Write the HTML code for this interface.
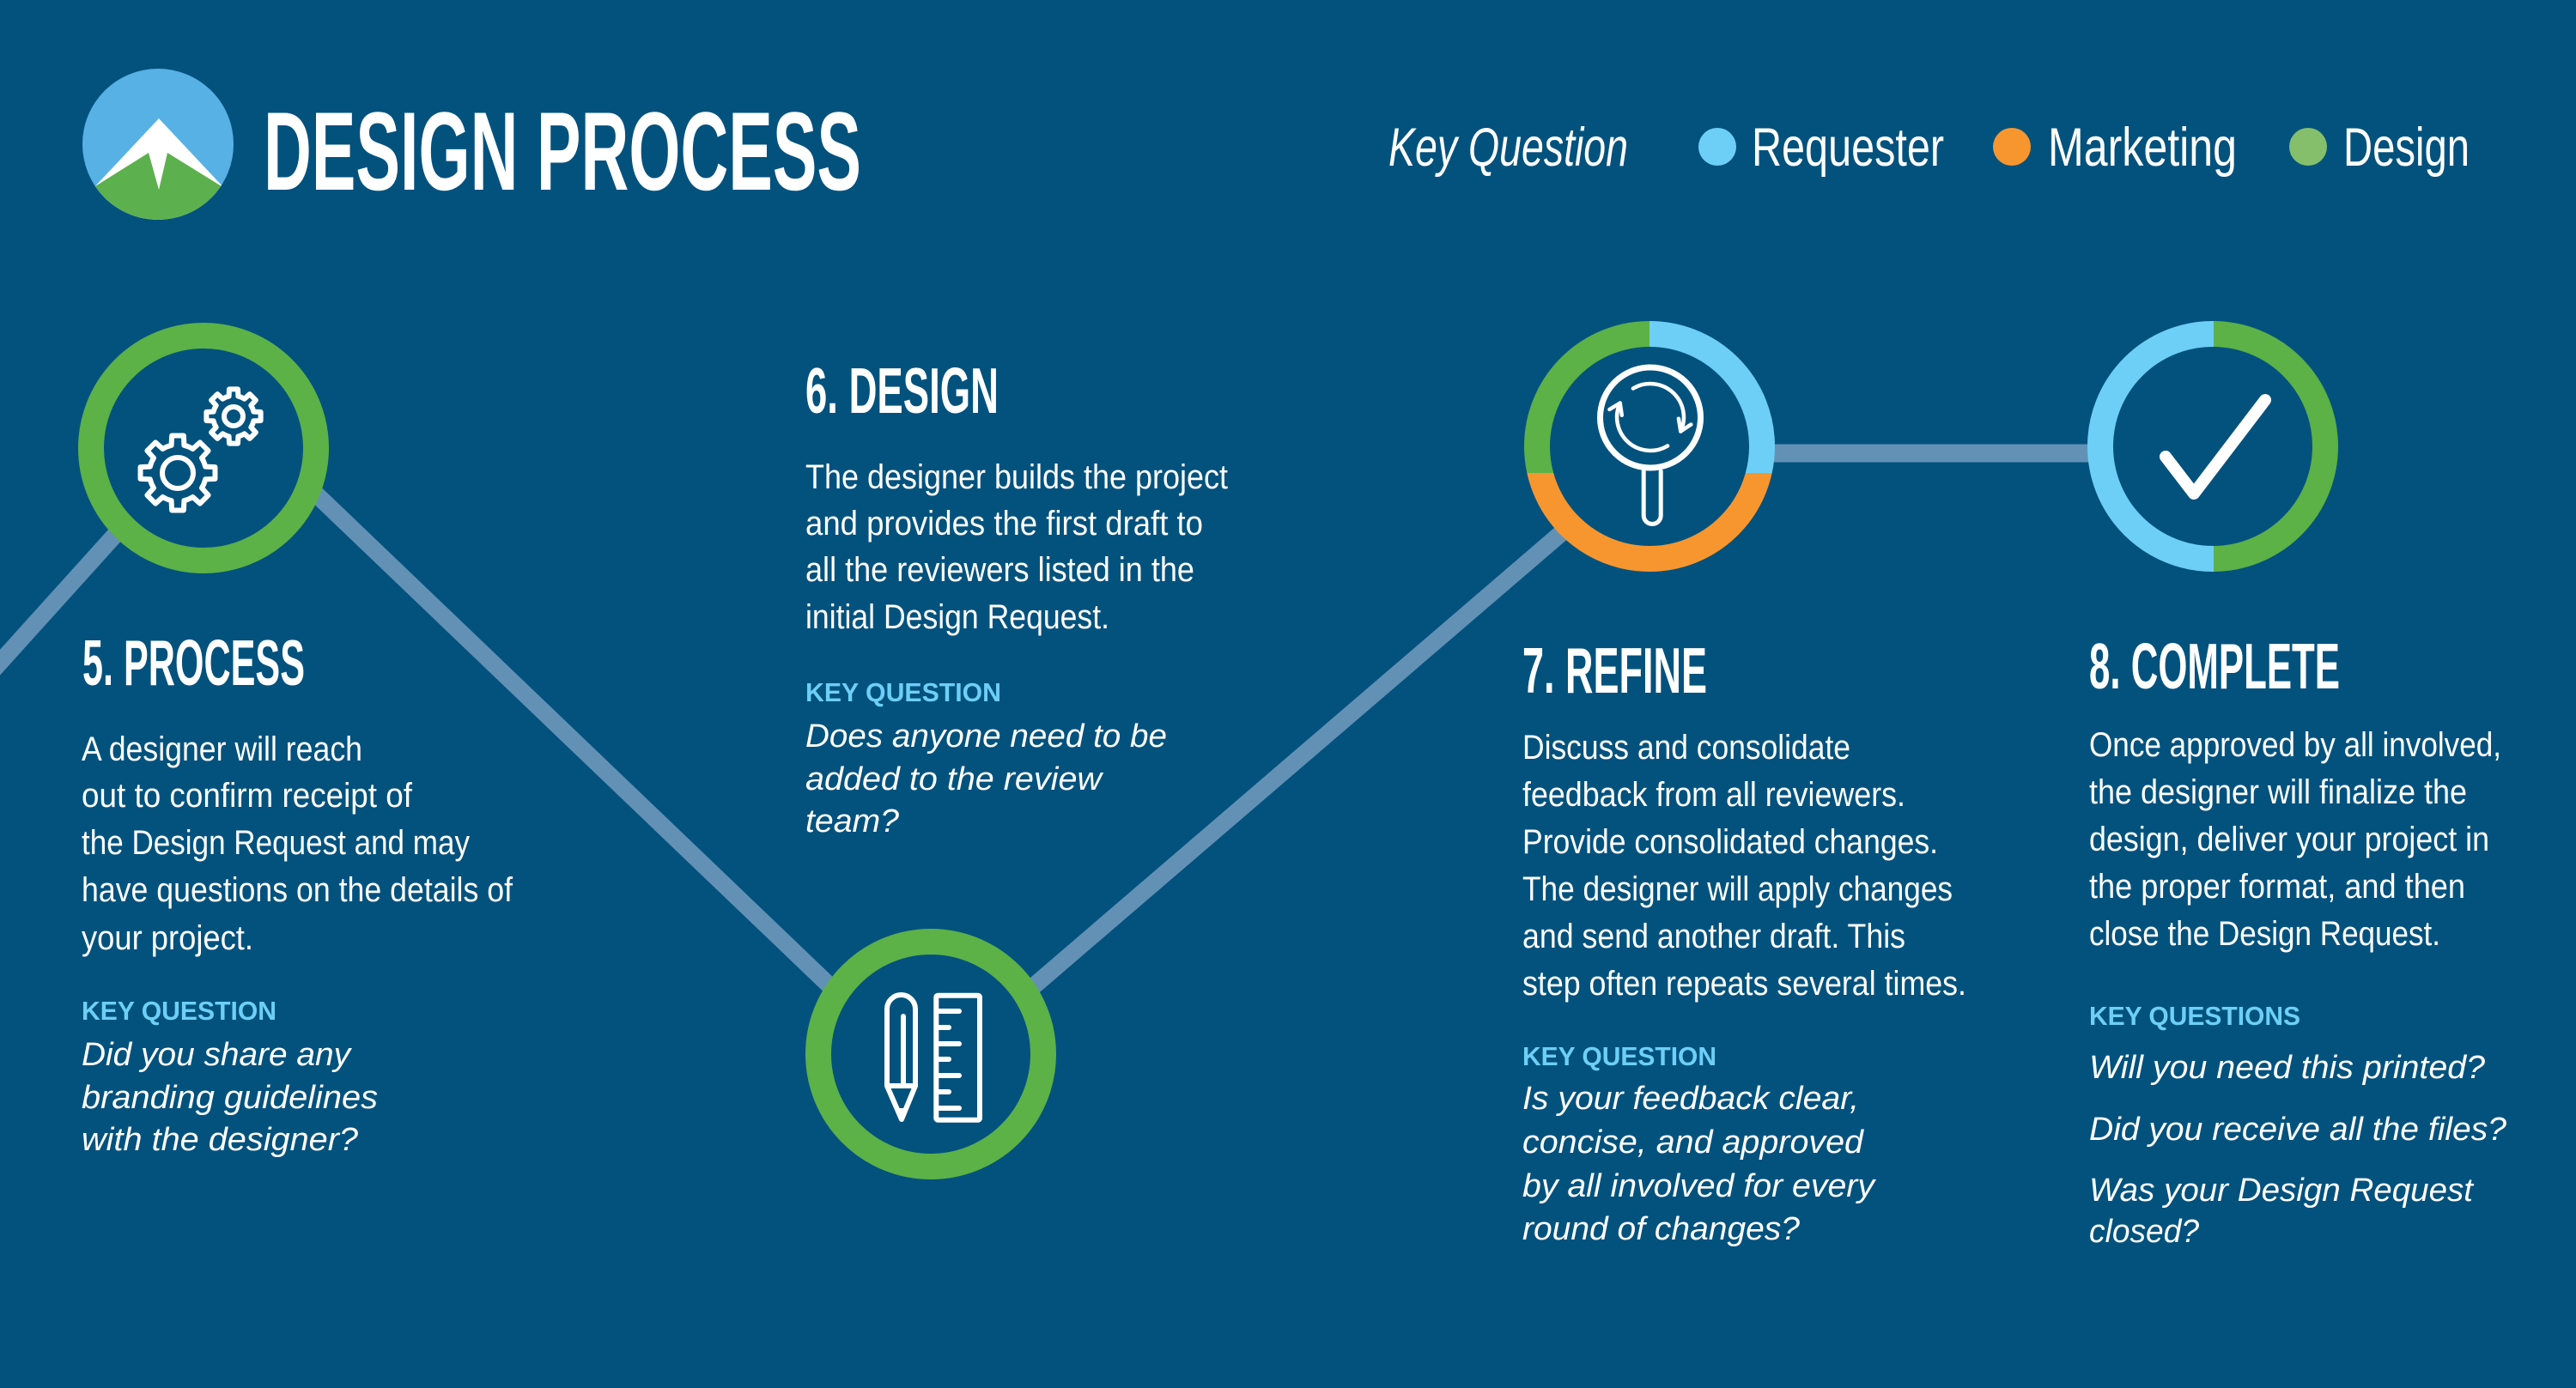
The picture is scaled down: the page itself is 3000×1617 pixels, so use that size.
<!DOCTYPE html>
<html>
<head>
<meta charset="utf-8">
<style>
  html,body{margin:0;padding:0;background:#03527e;}
  svg{display:block;}
  text{font-family:"Liberation Sans",Arial,sans-serif;fill:#fff;}
  .h{font-weight:bold;font-size:75px;}
  .b{font-size:40px;}
  .k{font-weight:bold;font-size:31px;fill:#6dcff6;}
  .i{font-style:italic;font-size:38px;}
  .lg{font-size:63px;}
</style>
</head>
<body>
<svg width="3000" height="1617" viewBox="0 0 3000 1617" xmlns="http://www.w3.org/2000/svg">
  <defs>
    <clipPath id="lc"><circle cx="184" cy="168" r="88"/></clipPath>
    <clipPath id="c7o"><rect x="1760" y="551" width="330" height="140"/></clipPath>
    <clipPath id="c7g"><rect x="1760" y="350" width="161" height="201"/></clipPath>
    <clipPath id="c7b"><rect x="1921" y="350" width="170" height="201"/></clipPath>
    <clipPath id="c8b"><rect x="2410" y="350" width="168" height="340"/></clipPath>
    <clipPath id="c8g"><rect x="2578" y="350" width="170" height="340"/></clipPath>
  </defs>

  <rect width="3000" height="1617" fill="#03527e"/>

  <!-- Logo -->
  <g clip-path="url(#lc)">
    <rect x="90" y="75" width="190" height="190" fill="#57b1e5"/>
    <polygon points="185,138 33,300 337,300" fill="#ffffff"/>
    <polygon points="0,217 111,217 173,178 185,221 195,178 258,217 300,217 300,300 0,300" fill="#5db04e"/>
  </g>
  <text x="307" y="221" font-size="130" font-weight="bold" textLength="696" lengthAdjust="spacingAndGlyphs">DESIGN PROCESS</text>

  <!-- Legend -->
  <text class="lg" x="1617" y="193" font-style="italic" textLength="279" lengthAdjust="spacingAndGlyphs">Key Question</text>
  <circle cx="2000" cy="171" r="22" fill="#6dcff6"/>
  <text class="lg" x="2040" y="193" textLength="224" lengthAdjust="spacingAndGlyphs">Requester</text>
  <circle cx="2343" cy="171" r="22" fill="#f7962f"/>
  <text class="lg" x="2385" y="193" textLength="220" lengthAdjust="spacingAndGlyphs">Marketing</text>
  <circle cx="2688" cy="171" r="22" fill="#85bf6b"/>
  <text class="lg" x="2729" y="193" textLength="147" lengthAdjust="spacingAndGlyphs">Design</text>

  <!-- Connector lines -->
  <g stroke="#6391b5" stroke-width="20" fill="none">
    <line x1="-40" y1="816" x2="200" y2="550"/>
    <line x1="310" y1="520" x2="1065" y2="1243"/>
    <line x1="1100" y1="1238" x2="1915" y2="538"/>
    <line x1="2000" y1="528" x2="2500" y2="528" stroke-width="21"/>
  </g>

  <!-- Circle 5 -->
  <circle cx="237" cy="522" r="131" fill="#03527e" stroke="#5cb147" stroke-width="30"/>
  <g fill="none" stroke="#fff" stroke-linejoin="round">
    <path transform="translate(207,551) scale(0.44)" stroke-width="13.6" d="M73.08,-16.87 L98.77,-15.64 L98.77,15.64 L73.08,16.87 A75,75 0 0 1 63.60,39.74 L80.90,58.78 L58.78,80.90 L39.74,63.60 A75,75 0 0 1 16.87,73.08 L15.64,98.77 L-15.64,98.77 L-16.87,73.08 A75,75 0 0 1 -39.74,63.60 L-58.78,80.90 L-80.90,58.78 L-63.60,39.74 A75,75 0 0 1 -73.08,16.87 L-98.77,15.64 L-98.77,-15.64 L-73.08,-16.87 A75,75 0 0 1 -63.60,-39.74 L-80.90,-58.78 L-58.78,-80.90 L-39.74,-63.60 A75,75 0 0 1 -16.87,-73.08 L-15.64,-98.77 L15.64,-98.77 L16.87,-73.08 A75,75 0 0 1 39.74,-63.60 L58.78,-80.90 L80.90,-58.78 L63.60,-39.74 A75,75 0 0 1 73.08,-16.87 Z"/>
    <circle cx="207" cy="551" r="18" stroke-width="6"/>
    <path transform="translate(272,485) scale(0.32)" stroke-width="18.75" d="M73.08,-16.87 L98.77,-15.64 L98.77,15.64 L73.08,16.87 A75,75 0 0 1 63.60,39.74 L80.90,58.78 L58.78,80.90 L39.74,63.60 A75,75 0 0 1 16.87,73.08 L15.64,98.77 L-15.64,98.77 L-16.87,73.08 A75,75 0 0 1 -39.74,63.60 L-58.78,80.90 L-80.90,58.78 L-63.60,39.74 A75,75 0 0 1 -73.08,16.87 L-98.77,15.64 L-98.77,-15.64 L-73.08,-16.87 A75,75 0 0 1 -63.60,-39.74 L-80.90,-58.78 L-58.78,-80.90 L-39.74,-63.60 A75,75 0 0 1 -16.87,-73.08 L-15.64,-98.77 L15.64,-98.77 L16.87,-73.08 A75,75 0 0 1 39.74,-63.60 L58.78,-80.90 L80.90,-58.78 L63.60,-39.74 A75,75 0 0 1 73.08,-16.87 Z"/>
    <circle cx="272" cy="485" r="11" stroke-width="6"/>
  </g>

  <!-- Circle 6 -->
  <circle cx="1084" cy="1228" r="131" fill="#03527e" stroke="#5cb147" stroke-width="30"/>
  <g fill="none" stroke="#fff" stroke-width="6" stroke-linecap="round" stroke-linejoin="round">
    <path d="M1033,1265 L1033,1175.5 A16.5,16.5 0 0 1 1066,1175.5 L1066,1265 Z"/>
    <path d="M1033,1265 L1050,1304 L1066,1265"/>
    <line x1="1052" y1="1184" x2="1052" y2="1265"/>
    <line x1="1046" y1="1294" x2="1054" y2="1294"/>
    <rect x="1090.3" y="1159.7" width="50.7" height="145" rx="2"/>
    <line x1="1093" y1="1178" x2="1117" y2="1178"/>
    <line x1="1093" y1="1197" x2="1105" y2="1197"/>
    <line x1="1093" y1="1216" x2="1117" y2="1216"/>
    <line x1="1093" y1="1234" x2="1105" y2="1234"/>
    <line x1="1093" y1="1253" x2="1117" y2="1253"/>
    <line x1="1093" y1="1272" x2="1105" y2="1272"/>
    <line x1="1093" y1="1291" x2="1117" y2="1291"/>
  </g>

  <!-- Circle 7 -->
  <circle cx="1921" cy="520" r="131" fill="#03527e"/>
  <circle cx="1921" cy="520" r="131" fill="none" stroke="#f7962f" stroke-width="30" clip-path="url(#c7o)"/>
  <circle cx="1921" cy="520" r="131" fill="none" stroke="#5cb147" stroke-width="30" clip-path="url(#c7g)"/>
  <circle cx="1921" cy="520" r="131" fill="none" stroke="#6dcff6" stroke-width="30" clip-path="url(#c7b)"/>
  <g fill="none" stroke="#fff" stroke-linecap="round" stroke-linejoin="round">
    <circle cx="1922" cy="486.5" r="58.5" stroke-width="7"/>
    <path d="M1914.2,549 L1914.2,600.5 A10,10 0 0 0 1934.2,600.5 L1934.2,549" stroke-width="5"/>
    <path d="M1901.9,452.6 A39,39 0 0 1 1957.3,502.5" stroke-width="4.5"/>
    <polyline points="1969.3,494.5 1957.3,502.5 1954.9,487.7" stroke-width="4.5"/>
    <path d="M1942.1,519.4 A39,39 0 0 1 1886.7,469.5" stroke-width="4.5"/>
    <polyline points="1874.4,477 1886.7,469.5 1888.8,483.8" stroke-width="4.5"/>
  </g>

  <!-- Circle 8 -->
  <circle cx="2577" cy="520" r="131" fill="#03527e"/>
  <circle cx="2577" cy="520" r="131" fill="none" stroke="#6dcff6" stroke-width="30" clip-path="url(#c8b)"/>
  <circle cx="2577" cy="520" r="131" fill="none" stroke="#5cb147" stroke-width="30" clip-path="url(#c8g)"/>
  <polyline points="2522,532 2555,575 2638,466" fill="none" stroke="#fff" stroke-width="14" stroke-linecap="round" stroke-linejoin="round"/>

  <!-- Section 5 -->
  <text class="h" x="96" y="798" textLength="259" lengthAdjust="spacingAndGlyphs">5. PROCESS</text>
  <text class="b" x="95" y="886" textLength="327" lengthAdjust="spacingAndGlyphs">A designer will reach</text>
  <text class="b" x="95" y="940" textLength="385" lengthAdjust="spacingAndGlyphs">out to confirm receipt of</text>
  <text class="b" x="95" y="995" textLength="452" lengthAdjust="spacingAndGlyphs">the Design Request and may</text>
  <text class="b" x="95" y="1050" textLength="502" lengthAdjust="spacingAndGlyphs">have questions on the details of</text>
  <text class="b" x="95" y="1106" textLength="200" lengthAdjust="spacingAndGlyphs">your project.</text>
  <text class="k" x="95" y="1188" textLength="227" lengthAdjust="spacingAndGlyphs">KEY QUESTION</text>
  <text class="i" x="95" y="1241" textLength="313" lengthAdjust="spacingAndGlyphs">Did you share any</text>
  <text class="i" x="95" y="1291" textLength="345" lengthAdjust="spacingAndGlyphs">branding guidelines</text>
  <text class="i" x="95" y="1340" textLength="322" lengthAdjust="spacingAndGlyphs">with the designer?</text>

  <!-- Section 6 -->
  <text class="h" x="938" y="481" textLength="225" lengthAdjust="spacingAndGlyphs">6. DESIGN</text>
  <text class="b" x="938" y="569" textLength="492" lengthAdjust="spacingAndGlyphs">The designer builds the project</text>
  <text class="b" x="938" y="623" textLength="463" lengthAdjust="spacingAndGlyphs">and provides the first draft to</text>
  <text class="b" x="938" y="677" textLength="453" lengthAdjust="spacingAndGlyphs">all the reviewers listed in the</text>
  <text class="b" x="938" y="732" textLength="354" lengthAdjust="spacingAndGlyphs">initial Design Request.</text>
  <text class="k" x="938" y="817" textLength="228" lengthAdjust="spacingAndGlyphs">KEY QUESTION</text>
  <text class="i" x="938" y="870" textLength="421" lengthAdjust="spacingAndGlyphs">Does anyone need to be</text>
  <text class="i" x="938" y="920" textLength="345" lengthAdjust="spacingAndGlyphs">added to the review</text>
  <text class="i" x="938" y="969" textLength="109" lengthAdjust="spacingAndGlyphs">team?</text>

  <!-- Section 7 -->
  <text class="h" x="1773" y="807" textLength="215" lengthAdjust="spacingAndGlyphs">7. REFINE</text>
  <text class="b" x="1773" y="884" textLength="382" lengthAdjust="spacingAndGlyphs">Discuss and consolidate</text>
  <text class="b" x="1773" y="939" textLength="446" lengthAdjust="spacingAndGlyphs">feedback from all reviewers.</text>
  <text class="b" x="1773" y="994" textLength="484" lengthAdjust="spacingAndGlyphs">Provide consolidated changes.</text>
  <text class="b" x="1773" y="1049" textLength="501" lengthAdjust="spacingAndGlyphs">The designer will apply changes</text>
  <text class="b" x="1773" y="1104" textLength="446" lengthAdjust="spacingAndGlyphs">and send another draft. This</text>
  <text class="b" x="1773" y="1159" textLength="517" lengthAdjust="spacingAndGlyphs">step often repeats several times.</text>
  <text class="k" x="1773" y="1241" textLength="226" lengthAdjust="spacingAndGlyphs">KEY QUESTION</text>
  <text class="i" x="1773" y="1292" textLength="392" lengthAdjust="spacingAndGlyphs">Is your feedback clear,</text>
  <text class="i" x="1773" y="1343" textLength="397" lengthAdjust="spacingAndGlyphs">concise, and approved</text>
  <text class="i" x="1773" y="1394" textLength="410" lengthAdjust="spacingAndGlyphs">by all involved for every</text>
  <text class="i" x="1773" y="1444" textLength="323" lengthAdjust="spacingAndGlyphs">round of changes?</text>

  <!-- Section 8 -->
  <text class="h" x="2433" y="802" textLength="292" lengthAdjust="spacingAndGlyphs">8. COMPLETE</text>
  <text class="b" x="2433" y="881" textLength="480" lengthAdjust="spacingAndGlyphs">Once approved by all involved,</text>
  <text class="b" x="2433" y="936" textLength="440" lengthAdjust="spacingAndGlyphs">the designer will finalize the</text>
  <text class="b" x="2433" y="991" textLength="466" lengthAdjust="spacingAndGlyphs">design, deliver your project in</text>
  <text class="b" x="2433" y="1046" textLength="438" lengthAdjust="spacingAndGlyphs">the proper format, and then</text>
  <text class="b" x="2433" y="1101" textLength="409" lengthAdjust="spacingAndGlyphs">close the Design Request.</text>
  <text class="k" x="2433" y="1194" textLength="246" lengthAdjust="spacingAndGlyphs">KEY QUESTIONS</text>
  <text class="i" x="2433" y="1256" textLength="461" lengthAdjust="spacingAndGlyphs">Will you need this printed?</text>
  <text class="i" x="2433" y="1328" textLength="486" lengthAdjust="spacingAndGlyphs">Did you receive all the files?</text>
  <text class="i" x="2433" y="1399" textLength="447" lengthAdjust="spacingAndGlyphs">Was your Design Request</text>
  <text class="i" x="2433" y="1447" textLength="128" lengthAdjust="spacingAndGlyphs">closed?</text>
</svg>
</body>
</html>
